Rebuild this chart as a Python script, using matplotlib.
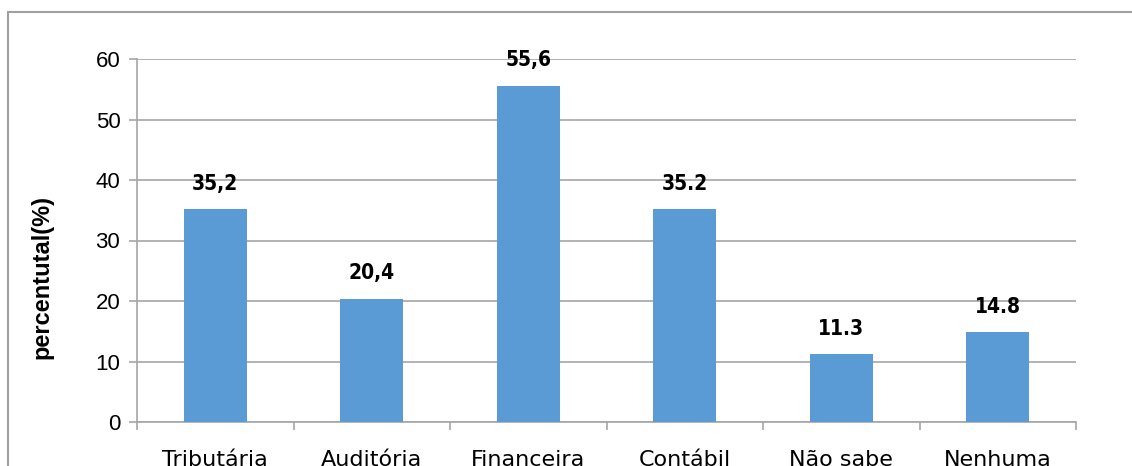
import matplotlib.pyplot as plt
from matplotlib.patches import Rectangle
import numpy as np

categorias = ['Tributária', 'Auditória', 'Financeira', 'Contábil', 'Não sabe', 'Nenhuma']
valores = [35.2, 20.4, 55.6, 35.2, 11.3, 14.8]
rotulos = ['35,2', '20,4', '55,6', '35.2', '11.3', '14.8']

cor_barra = '#5B9BD5'
cinza = '#A6A6A6'

fig = plt.figure(figsize=(11.32, 4.66), dpi=100)
ax = fig.add_axes([137 / 1132, 1 - 422 / 466, (1076 - 137) / 1132, (422 - 59) / 466])

x = np.arange(len(categorias))
ax.bar(x, valores, width=0.4, color=cor_barra, zorder=3)

for xi, v, r in zip(x, valores, rotulos):
    ax.text(xi, v + 2.5, r, ha='center', va='bottom', fontsize=15,
            fontweight='bold', family='DejaVu Sans', fontstretch='condensed')

ax.set_xlim(-0.5, len(categorias) - 0.5)
ax.set_ylim(0, 60)
ax.set_yticks(range(0, 61, 10))
ax.set_yticklabels([str(t) for t in range(0, 61, 10)], fontsize=16, family='Liberation Sans')
ax.yaxis.grid(True, color=cinza, linewidth=1.2, zorder=0)
ax.tick_params(axis='y', length=6, width=1.2, color=cinza, pad=6)

ax.set_xticks(x)
ax.set_xticklabels(categorias, fontsize=16, family='DejaVu Sans')
ax.tick_params(axis='x', which='major', length=0, pad=20)
ax.set_xticks(np.arange(-0.5, len(categorias)), minor=True)
ax.tick_params(axis='x', which='minor', length=6, width=1.2, color=cinza)

for s in ['top', 'right']:
    ax.spines[s].set_visible(False)
for s in ['left', 'bottom']:
    ax.spines[s].set_color(cinza)
    ax.spines[s].set_linewidth(1.2)

ax.set_ylabel('percentutal(%)', fontsize=17, fontweight='bold', family='Liberation Sans')
ax.yaxis.set_label_coords(-0.089, 0.40)

topo = 1 - 12 / 466
fig.patches.append(Rectangle((8 / 1132, -0.2), 1.2, topo + 0.2,
                             transform=fig.transFigure, fill=False,
                             edgecolor='#A0A0A0', linewidth=1.5))

fig.savefig('out.png', dpi=100)
